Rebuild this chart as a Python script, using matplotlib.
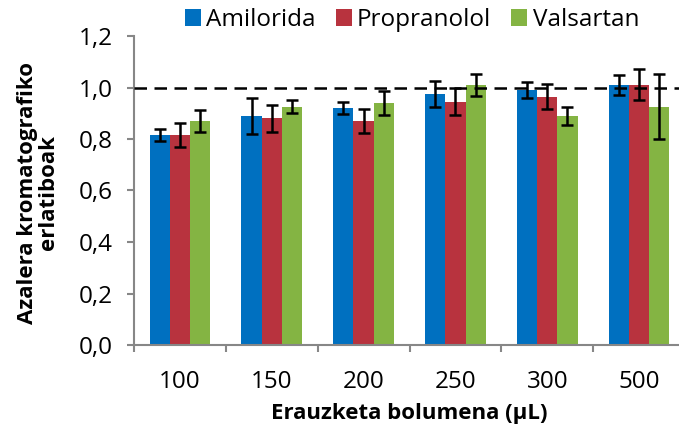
import matplotlib
matplotlib.use("Agg")
import matplotlib.pyplot as plt
import numpy as np
from matplotlib.patches import Patch
from matplotlib.ticker import FuncFormatter

plt.rcParams["font.family"] = ["Open Sans", "DejaVu Sans"]

volumes = ["100", "150", "200", "250", "300", "500"]
series = ["Amilorida", "Propranolol", "Valsartan"]
amilorida = [0.815, 0.89, 0.92, 0.975, 0.99, 1.01]
propranolol = [0.815, 0.88, 0.87, 0.945, 0.965, 1.01]
valsartan = [0.87, 0.925, 0.94, 1.01, 0.89, 0.925]
amilorida_err = [0.024, 0.071, 0.024, 0.052, 0.03, 0.038]
propranolol_err = [0.048, 0.052, 0.048, 0.053, 0.048, 0.06]
valsartan_err = [0.043, 0.025, 0.048, 0.044, 0.034, 0.126]
reference_level = 1.0

colors = ["#0070C0", "#B8333E", "#84B443"]
axis_grey = "#878787"

W, H = 679, 429
fig = plt.figure(figsize=(W / 100, H / 100), dpi=100)
ax = fig.add_axes([134 / W, (H - 345) / H, 551 / W, 309 / H])

x = np.arange(len(volumes))
width = 0.22
values = [amilorida, propranolol, valsartan]
errors = [amilorida_err, propranolol_err, valsartan_err]
for i, (vals, errs) in enumerate(zip(values, errors)):
    pos = x + (i - 1) * width
    ax.bar(pos, vals, width, color=colors[i], zorder=2)
    ax.errorbar(pos, vals, yerr=errs, fmt="none", ecolor="black",
                elinewidth=1.8, capsize=4.5, capthick=1.8, zorder=3)

ax.axhline(reference_level, color="black", lw=1.8, ls=(0, (5, 3)), zorder=4)

ax.set_xlim(-0.5, len(volumes) - 0.5)
ax.set_ylim(0, 1.2)
ax.set_yticks(np.arange(0, 1.21, 0.2))
ax.yaxis.set_major_formatter(FuncFormatter(lambda v, _: f"{v:.1f}".replace(".", ",")))
ax.set_xticks(np.arange(-0.5, len(volumes), 1.0))
ax.set_xticklabels([])
ax.set_xticks(x, minor=True)
ax.set_xticklabels(volumes, minor=True)
ax.tick_params(axis="x", which="major", length=5, width=1.5, color=axis_grey)
ax.tick_params(axis="x", which="minor", length=0, pad=18, labelsize=17.5)
ax.tick_params(axis="y", length=5, width=1.5, color=axis_grey, pad=10, labelsize=17.5)

for side in ["top", "right"]:
    ax.spines[side].set_visible(False)
for side in ["left", "bottom"]:
    ax.spines[side].set_color(axis_grey)
    ax.spines[side].set_linewidth(1.5)

fig.text(38 / W, 1 - 193 / H, "Azalera kromatografiko\nerlatiboak", rotation=90,
         ha="center", va="center", multialignment="center", fontsize=16,
         fontweight="bold", linespacing=1.05)
fig.text(409 / W, 1 - 414 / H, "Erauzketa bolumena (\u00b5L)", ha="center",
         va="center", fontsize=16, fontweight="bold")

handles = [Patch(facecolor=c, label=s) for c, s in zip(colors, series)]
fig.legend(handles=handles, loc="center", bbox_to_anchor=(412 / W, 1 - 20 / H),
           ncol=3, frameon=False, fontsize=17.5, handlelength=0.66,
           handleheight=0.66, handletextpad=0.22, columnspacing=0.82,
           borderaxespad=0, borderpad=0)

fig.savefig("out.png", dpi=100)
